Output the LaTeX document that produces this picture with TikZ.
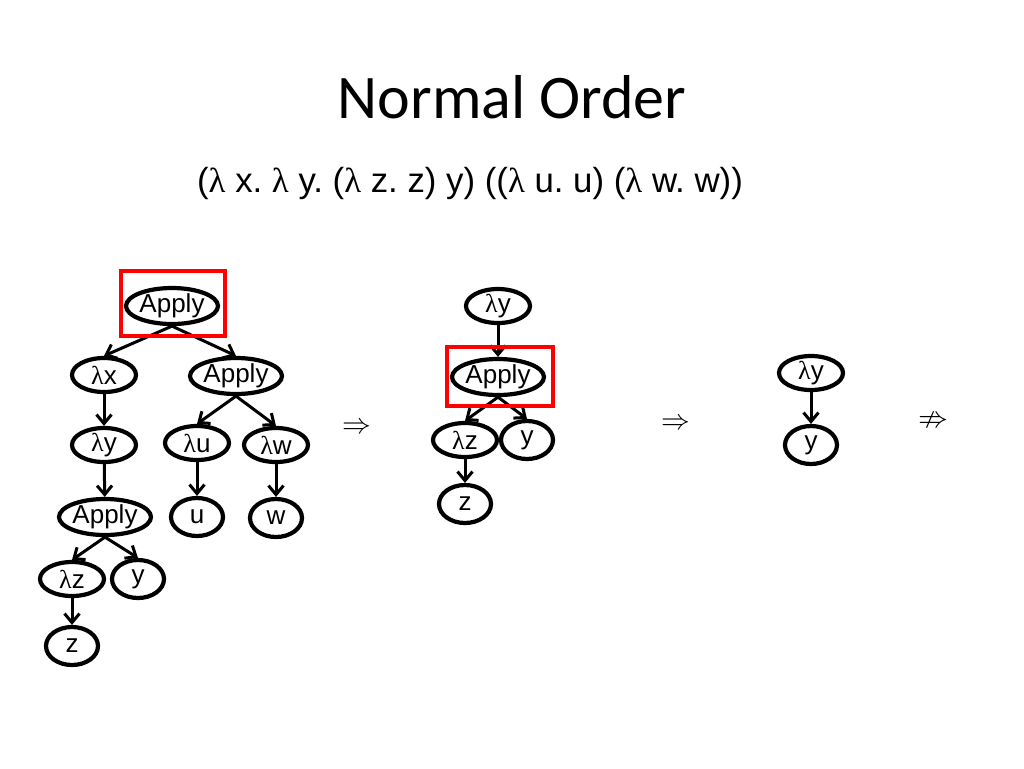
\documentclass[tikz,border=0pt]{standalone}
\usepackage{amssymb}
\usepackage{fontspec}
\setmainfont{Liberation Sans}
\newfontfamily\titlefont{Carlito}
\newfontfamily\lamfont{Liberation Serif}
\newcommand{\lam}{{\lamfont λ}}
\frenchspacing
\usetikzlibrary{shapes.geometric,arrows.meta}
\begin{document}
\begin{tikzpicture}[x=0.5pt,y=-0.5pt,
  nd/.style={ellipse,draw,line width=2.1pt,inner sep=0pt,minimum width=32pt,minimum height=17pt,font=\fontsize{13}{13}\selectfont},
  sn/.style={nd,minimum width=26pt,minimum height=19pt},
  ap/.style={nd,minimum width=42pt,minimum height=18pt},
  ed/.style={line width=1.5pt,-{Straight Barb[length=4.5pt,width=7.5pt,line width=1.5pt]}},
  redbox/.style={draw=red,line width=1.7pt},
  imp/.style={font=\fontsize{15}{15}\selectfont}]
\useasboundingbox (0,0) rectangle (1024,768);
\node[font=\titlefont\fontsize{31}{31}\selectfont] (title) at (512,97) {Normal Order};
\node[font=\fontsize{17.4}{17.4}\selectfont] (expr) at (470,183) {(\lam{} x. \lam{} y. (\lam{} z. z) y) ((\lam{} u. u) (\lam{} w. w))};
% left tree
\node[ap] (a1) at (172,306) {Apply};
\node[nd] (lx) at (104,375) {\lam x};
\node[ap] (a2) at (236,376) {Apply};
\node[nd] (ly) at (104,445) {\lam y};
\node[nd] (lu) at (197,443) {\lam u};
\node[nd] (lw) at (276,445) {\lam w};
\node[ap] (a3) at (105,517) {Apply};
\node[sn] (u) at (197,517) {u};
\node[sn] (w) at (276,518) {w};
\node[nd] (lz) at (72,579) {\lam z};
\node[sn] (y1) at (138,579) {y};
\node[sn] (z1) at (72,646) {z};
\draw[ed] (a1.south) -- (lx.north);
\draw[ed] (a1.south) -- (a2.north);
\draw[ed] (lx) -- (ly);
\draw[ed] (a2.south) -- (lu.north);
\draw[ed] (a2.south) -- (lw.north);
\draw[ed] (ly) -- (a3);
\draw[ed] (lu) -- (u);
\draw[ed] (lw) -- (w);
\draw[ed] (a3.south) -- (lz.north);
\draw[ed] (a3.south) -- (y1.north);
\draw[ed] (lz) -- (z1);
\draw[redbox] (121,271) rectangle (225,336);
\node[imp] (i1) at (357,428) {\(\Rightarrow\)};
% middle tree
\node[nd] (mly) at (498,306) {\lam y};
\node[ap] (ma) at (498,377) {Apply};
\node[nd] (mlz) at (465,440) {\lam z};
\node[sn] (my) at (527,440) {y};
\node[sn] (mz) at (465,504) {z};
\draw[ed] (mly) -- (ma);
\draw[ed] (ma.south) -- (mlz.north);
\draw[ed] (ma.south) -- (my.north);
\draw[ed] (mlz) -- (mz);
\draw[redbox] (447,347) rectangle (553,406);
\node[imp] (i2) at (676,424) {\(\Rightarrow\)};
% right tree
\node[nd] (rly) at (811,373) {\lam y};
\node[sn] (ry) at (811,445) {y};
\draw[ed] (rly) -- (ry);
\node[imp] (i3) at (933,422) {\(\nRightarrow\)};
\end{tikzpicture}
\end{document}
